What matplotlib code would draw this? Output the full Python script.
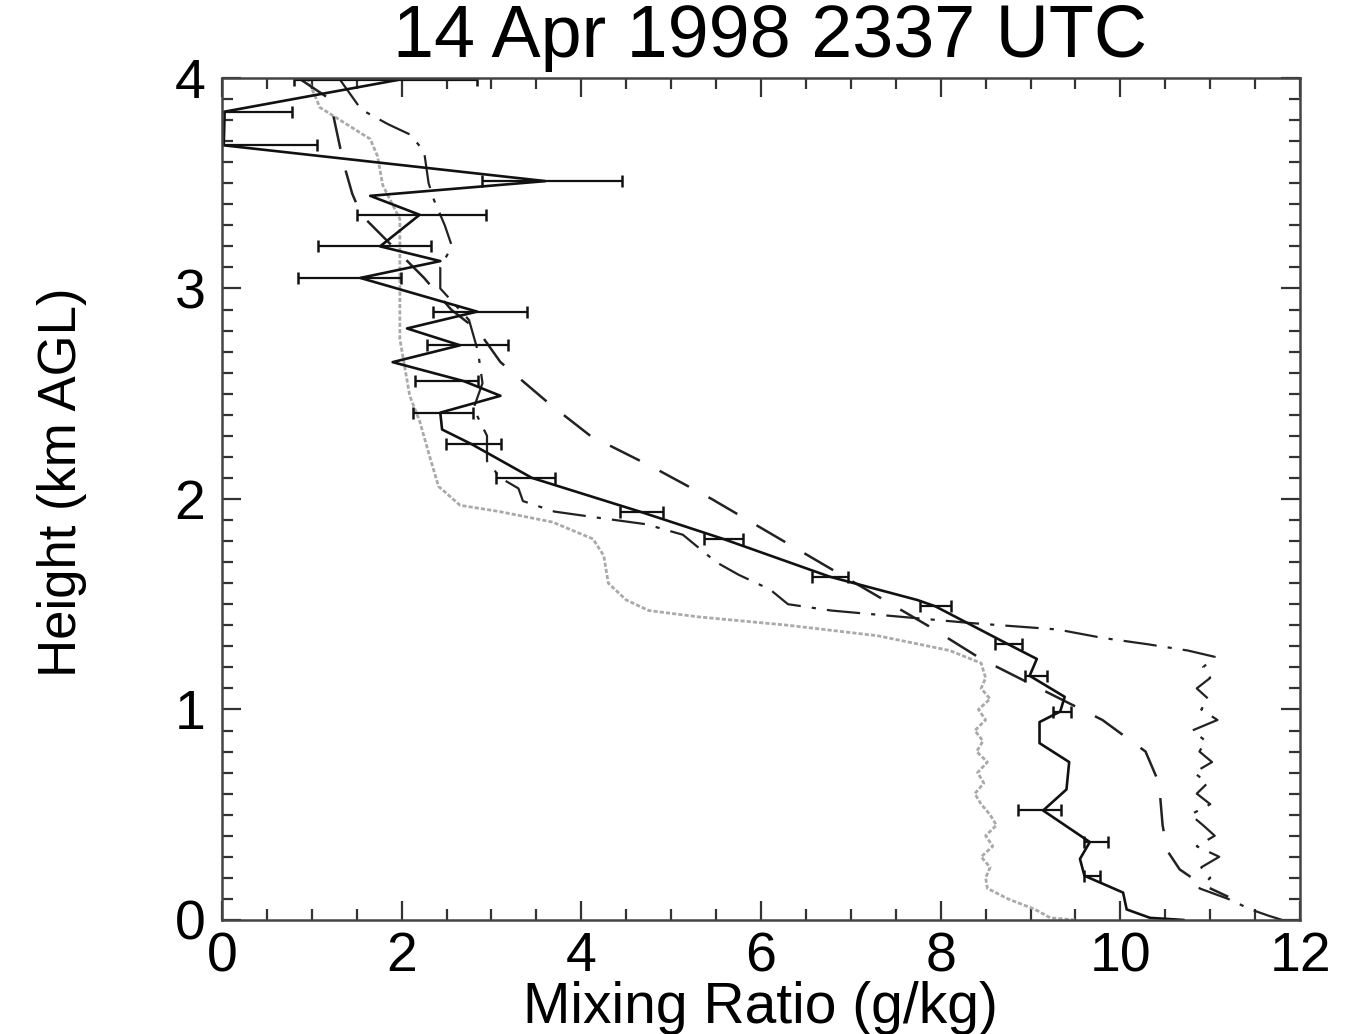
import numpy as np
import matplotlib
matplotlib.use("Agg")
import matplotlib.pyplot as plt
from matplotlib.ticker import MultipleLocator

plt.rcParams['font.family'] = ['Liberation Sans', 'DejaVu Sans']
plt.rcParams['lines.scale_dashes'] = False

# lidar profile (solid) : height (km), mixing ratio (g/kg)
lidar_h = [3.99, 3.84, 3.68, 3.51, 3.44, 3.35, 3.20, 3.13, 3.05, 2.89, 2.81, 2.73,
           2.65, 2.56, 2.49, 2.41, 2.33, 2.26, 2.10, 1.94, 1.81, 1.63, 1.52, 1.49,
           1.31, 1.24, 1.16, 1.06, 0.99, 0.94, 0.84, 0.75, 0.62, 0.52, 0.37, 0.29,
           0.21, 0.13, 0.05, 0.01, 0.0]
lidar_q = [1.95, 0.03, 0.02, 3.60, 1.65, 2.20, 1.76, 2.43, 1.54, 2.84, 2.06, 2.65,
           1.90, 2.69, 3.10, 2.43, 2.45, 2.78, 3.45, 4.65, 5.58, 6.77, 7.74, 7.94,
           8.75, 9.07, 8.99, 9.38, 9.33, 9.10, 9.10, 9.43, 9.40, 9.14, 9.66, 9.55,
           9.60, 10.03, 10.07, 10.33, 10.70]

# lidar error bars
err_h = [3.99, 3.84, 3.68, 3.51, 3.35, 3.20, 3.05, 2.89, 2.73, 2.56, 2.41, 2.26,
         2.10, 1.94, 1.81, 1.63, 1.49, 1.31, 1.16, 0.99, 0.52, 0.37, 0.21]
err_q = [1.82, 0.05, 0.02, 3.67, 2.22, 1.70, 1.42, 2.87, 2.73, 2.50, 2.46, 2.80,
         3.38, 4.67, 5.58, 6.77, 7.94, 8.75, 9.06, 9.35, 9.10, 9.73, 9.68]
err_dq = [1.02, 0.73, 1.04, 0.78, 0.72, 0.63, 0.57, 0.52, 0.45, 0.35, 0.33, 0.31,
          0.33, 0.24, 0.22, 0.20, 0.17, 0.15, 0.12, 0.10, 0.24, 0.13, 0.09]

# sonde A (dashed)
sondeA_h = [4.0, 3.9, 3.8, 3.6, 3.45, 3.35, 3.2, 3.05, 2.9, 2.8, 2.65, 2.45, 2.3,
            2.15, 2.0, 1.85, 1.7, 1.55, 1.4, 1.24, 1.1, 0.95, 0.8, 0.65, 0.45,
            0.33, 0.24, 0.17, 0.11]
sondeA_q = [0.85, 1.20, 1.25, 1.35, 1.45, 1.55, 1.90, 2.25, 2.55, 2.85, 3.10, 3.65,
            4.10, 4.80, 5.45, 6.05, 6.65, 7.25, 7.85, 8.45, 9.10, 9.80, 10.28,
            10.43, 10.47, 10.52, 10.66, 10.90, 11.20]

# sonde B (dash-dot)
sondeB_h = [4.0, 3.85, 3.78, 3.73, 3.65, 3.5, 3.42, 3.3, 3.2, 3.1, 3.0, 2.85, 2.7,
            2.55, 2.43, 2.3, 2.18, 2.1, 2.05, 1.99, 1.94, 1.91, 1.88, 1.83, 1.7,
            1.64, 1.57, 1.5, 1.47, 1.45, 1.41, 1.38, 1.34, 1.31, 1.28,
            1.25, 1.2, 1.15, 1.1, 1.05, 1.0, 0.95, 0.9, 0.85, 0.8, 0.75, 0.7,
            0.65, 0.6, 0.55, 0.5, 0.45, 0.4, 0.35, 0.3, 0.25, 0.2, 0.15,
            0.1, 0.05, 0.02, 0.0]
sondeB_q = [1.30, 1.55, 1.85, 2.10, 2.25, 2.30, 2.36, 2.48, 2.56, 2.43, 2.43, 2.75,
            2.85, 2.90, 2.80, 2.95, 2.95, 3.10, 3.30, 3.35, 3.70, 4.20, 4.72, 5.13,
            5.50, 5.75, 6.10, 6.30, 6.78, 7.30, 8.35, 9.30, 9.80, 10.30, 10.75,
            11.05, 10.92, 11.00, 10.85, 10.98, 10.90, 11.08, 10.80, 10.95, 10.88,
            11.02, 10.82, 10.97, 10.85, 11.00, 10.78, 10.92, 11.05, 10.85, 11.10,
            10.90, 11.00, 10.88, 11.20, 11.45, 11.65, 11.80]

# model profile (light grey)
grey_h = [4.0, 3.86, 3.71, 3.63, 3.49, 3.33, 2.94, 2.76, 2.49, 2.37, 2.19, 2.06,
          1.97, 1.94, 1.89, 1.81, 1.73, 1.60, 1.52, 1.47, 1.44, 1.40, 1.35, 1.28,
          1.22, 1.15, 1.10, 1.05, 1.0, 0.95, 0.9, 0.85, 0.8, 0.75, 0.7, 0.65, 0.6,
          0.55, 0.5, 0.45, 0.4, 0.35, 0.3, 0.25, 0.2, 0.15, 0.1, 0.05, 0.01, 0.0]
grey_q = [0.95, 1.09, 1.65, 1.73, 1.79, 1.98, 1.98, 1.98, 2.09, 2.20, 2.32, 2.41,
          2.65, 3.09, 3.68, 4.13, 4.25, 4.30, 4.50, 4.75, 5.30, 6.30, 7.30, 8.10,
          8.45, 8.50, 8.45, 8.55, 8.42, 8.50, 8.38, 8.47, 8.40, 8.52, 8.41, 8.48,
          8.38, 8.45, 8.55, 8.62, 8.50, 8.58, 8.45, 8.55, 8.50, 8.52, 8.75, 9.05,
          9.22, 9.50]

fig = plt.figure(figsize=(13.51, 10.34), dpi=100)
ax = fig.add_axes([0.1643, 0.1103, 0.798, 0.8143])

ax.plot(grey_q, grey_h, color='#aaaaaa', lw=2.0, ls=(0, (3, 1.5)))
ax.plot(sondeA_q, sondeA_h, color='#222222', lw=1.8, ls=(0, (24, 16)))
ax.plot(sondeB_q, sondeB_h, color='#222222', lw=1.6, ls=(0, (24, 8, 3, 8)))
ax.plot(lidar_q, lidar_h, color='#111111', lw=1.9)
ax.errorbar(err_q, err_h, xerr=err_dq, fmt='none', ecolor='#111111',
            elinewidth=1.6, capsize=4.5, capthick=1.8)

ax.set_xlim(0, 12)
ax.set_ylim(0, 4)
ax.xaxis.set_major_locator(MultipleLocator(2))
ax.xaxis.set_minor_locator(MultipleLocator(0.5))
ax.yaxis.set_major_locator(MultipleLocator(1))
ax.yaxis.set_minor_locator(MultipleLocator(0.1))
ax.tick_params(which='both', direction='in', top=True, right=True,
               color='#333333', width=1.6, labelsize=40)
ax.tick_params(which='major', length=14)
ax.tick_params(which='minor', length=8)
ax.tick_params(axis='x', pad=8)
ax.tick_params(axis='y', pad=12)
for s in ax.spines.values():
    s.set_linewidth(1.8)
    s.set_color('#444444')

fig.text(0.57, 0.945, '14 Apr 1998 2337 UTC', ha='center', va='baseline', fontsize=53)
fig.text(0.563, 0.011, 'Mixing Ratio (g/kg)', ha='center', va='baseline', fontsize=41)
fig.text(0.046, 0.534, 'Height (km AGL)', ha='center', va='center', rotation=90,
         fontsize=38)

fig.savefig('out.png', dpi=100)
